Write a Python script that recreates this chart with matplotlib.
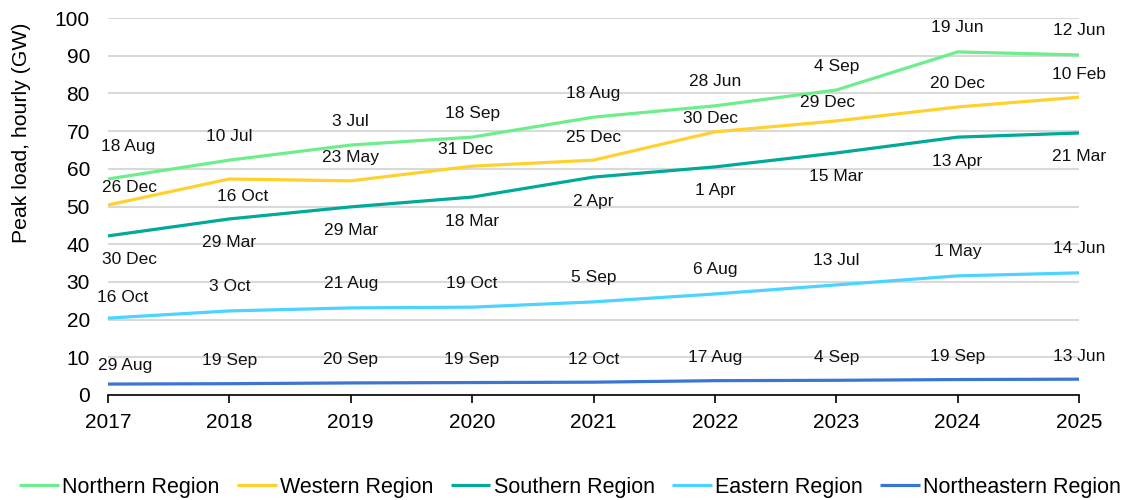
import matplotlib
matplotlib.use("Agg")
import matplotlib.pyplot as plt

plt.rcParams['font.family'] = ['Liberation Sans', 'DejaVu Sans']

years = [2017, 2018, 2019, 2020, 2021, 2022, 2023, 2024, 2025]

northern = [57.3, 62.3, 66.3, 68.4, 73.7, 76.7, 80.9, 91.0, 90.2]
western = [50.4, 57.3, 56.8, 60.7, 62.3, 69.8, 72.7, 76.4, 79.0]
southern = [42.2, 46.7, 49.9, 52.5, 57.8, 60.5, 64.2, 68.4, 69.5]
eastern = [20.4, 22.3, 23.1, 23.3, 24.7, 26.8, 29.2, 31.6, 32.4]
northeastern = [2.9, 3.0, 3.2, 3.3, 3.4, 3.8, 3.9, 4.1, 4.2]

northern_dates = ["18 Aug", "10 Jul", "3 Jul", "18 Sep", "18 Aug", "28 Jun", "4 Sep", "19 Jun", "12 Jun"]
western_dates = ["26 Dec", "16 Oct", "23 May", "31 Dec", "25 Dec", "30 Dec", "29 Dec", "20 Dec", "10 Feb"]
southern_dates = ["30 Dec", "29 Mar", "29 Mar", "18 Mar", "2 Apr", "1 Apr", "15 Mar", "13 Apr", "21 Mar"]
eastern_dates = ["16 Oct", "3 Oct", "21 Aug", "19 Oct", "5 Sep", "6 Aug", "13 Jul", "1 May", "14 Jun"]
northeastern_dates = ["29 Aug", "19 Sep", "20 Sep", "19 Sep", "12 Oct", "17 Aug", "4 Sep", "19 Sep", "13 Jun"]

series_names = ["Northern Region", "Western Region", "Southern Region", "Eastern Region", "Northeastern Region"]
colors = ["#6DEE8C", "#FFD12E", "#00A99A", "#4DD3FF", "#3A76D2"]

# label offsets in pixels (dx, dy) from the point
offsets = {
    0: [(20, 32)] + [(0, 24)] * 8,
    1: [(22, 17), (13, -18), (0, 23), (-7, 17), (0, 23), (-4, 13), (-9, 18), (0, 23), (0, 23)],
    2: [(21, -24)] + [(0, -24)] * 8,
    3: [(15, 21)] + [(0, 24)] * 8,
    4: [(17, 19)] + [(0, 23)] * 8,
}

dpi = 100
fig = plt.figure(figsize=(11.21, 5.0), dpi=dpi)
ax = fig.add_axes([108/1121, 105/500, 971/1121, 377/500])

all_vals = [northern, western, southern, eastern, northeastern]
all_dates = [northern_dates, western_dates, southern_dates, eastern_dates, northeastern_dates]

px = 72.0 / dpi
for i, (vals, dates, name, c) in enumerate(zip(all_vals, all_dates, series_names, colors)):
    ax.plot(years, vals, color=c, lw=2.3, label=name, solid_capstyle='butt', zorder=3)
    for j, (x, y, d) in enumerate(zip(years, vals, dates)):
        dx, dy = offsets[i][j]
        ax.annotate(d, (x, y), xytext=(dx * px, dy * px), textcoords='offset points',
                    ha='center', va='center', fontsize=12.5, color='#111111', zorder=4)

ax.set_xlim(2017, 2025)
ax.set_ylim(0, 100)
ax.set_yticks(range(0, 101, 10))
ax.set_xticks(years)
ax.grid(axis='y', color='#d9d9d9', lw=1.5)
ax.set_axisbelow(True)
for s in ['top', 'right', 'left']:
    ax.spines[s].set_visible(False)
ax.spines['bottom'].set_color('black')
ax.spines['bottom'].set_linewidth(1.2)
ax.tick_params(axis='x', direction='out', length=6, width=1.2, labelsize=15, pad=7)
ax.tick_params(axis='y', length=0, labelsize=15, pad=13)
ax.set_ylabel("Peak load, hourly (GW)", fontsize=15.3)
ax.yaxis.set_label_coords((31 - 108) / 971, (395 - 133) / 377)

leg = ax.legend(loc='center', bbox_to_anchor=((570 - 108) / 971, -(487 - 395) / 377), ncol=5,
                frameon=False, fontsize=15.5, handlelength=1.85, handletextpad=0.15,
                columnspacing=0.8, borderpad=0)

fig.savefig("out.png", dpi=dpi)
